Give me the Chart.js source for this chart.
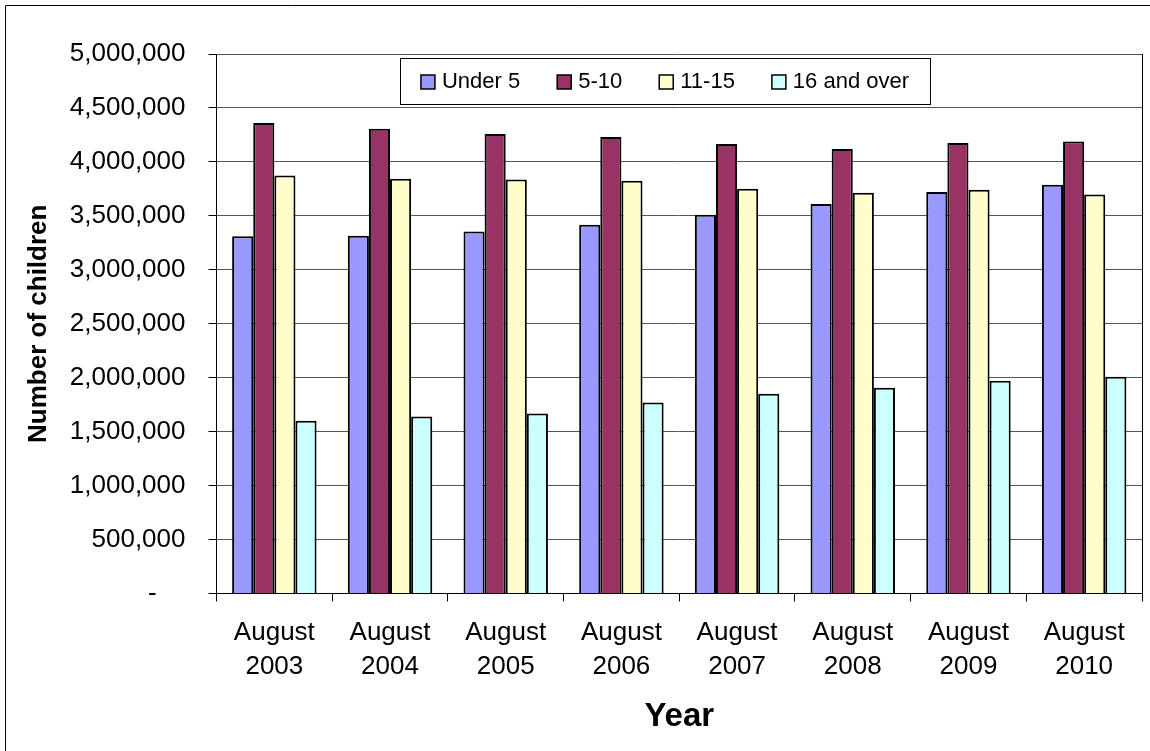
<!DOCTYPE html>
<html>
<head>
<meta charset="utf-8">
<script src="https://cdn.jsdelivr.net/npm/chart.js@4/dist/chart.umd.min.js"></script>
<style>
  html, body { margin: 0; padding: 0; background: #ffffff; }
  #wrap { width: 1150px; height: 751px; }
</style>
</head>
<body>
<div id="wrap"><canvas id="chart" width="1150" height="751"></canvas></div>
<script>
// Children counted each August, by age band
const years = ['2003', '2004', '2005', '2006', '2007', '2008', '2009', '2010'];
const seriesNames = ['Under 5', '5-10', '11-15', '16 and over'];
const under5    = [3310000, 3316000, 3356000, 3418000, 3511000, 3610000, 3721000, 3789000];
const age5to10  = [4361000, 4308000, 4259000, 4231000, 4166000, 4120000, 4175000, 4190000];
const age11to15 = [3875000, 3844000, 3838000, 3826000, 3752000, 3715000, 3742000, 3699000];
const age16plus = [1601000, 1641000, 1669000, 1771000, 1852000, 1907000, 1972000, 2009000];
const yTicks = [0, 500000, 1000000, 1500000, 2000000, 2500000, 3000000, 3500000, 4000000, 4500000, 5000000];

const fillColors = ['#9999FF', '#993366', '#FFFFCC', '#CCFFFF'];
const FONT = "'Liberation Sans', Arial, sans-serif";

const categories = years.map(y => ['August', y]);
const seriesValues = [under5, age5to10, age11to15, age16plus];

// Outer frame (left and top edges) plus the right edge of the plot
const framePlugin = {
  id: 'frame',
  beforeDraw(chart) {
    const ctx = chart.ctx;
    ctx.save();
    ctx.fillStyle = '#ffffff';
    ctx.fillRect(0, 0, chart.width, chart.height);
    ctx.strokeStyle = '#000000';
    ctx.lineWidth = 1;
    ctx.beginPath();
    ctx.moveTo(5.5, chart.height);
    ctx.lineTo(5.5, 5.5);
    ctx.lineTo(chart.width, 5.5);
    ctx.stroke();
    ctx.restore();
  },
  afterDatasetsDraw(chart) {
    const a = chart.chartArea;
    const ctx = chart.ctx;
    ctx.save();
    ctx.strokeStyle = '#000000';
    ctx.lineWidth = 1;
    const x = Math.round(a.right) + 0.5;
    ctx.beginPath();
    ctx.moveTo(x, a.top);
    ctx.lineTo(x, a.bottom);
    ctx.stroke();
    ctx.restore();
  }
};

// Boxed legend sitting inside the top of the plot
const boxLegendPlugin = {
  id: 'boxLegend',
  afterDraw(chart) {
    const ctx = chart.ctx;
    const box = { left: 400, top: 58, width: 530, height: 46 };
    const marker = 14, markerGap = 7, itemGap = 37;
    ctx.save();
    ctx.font = '22px ' + FONT;
    const items = chart.data.datasets.map(ds => ({
      label: ds.label, color: ds.backgroundColor, w: ctx.measureText(ds.label).width
    }));
    const total = items.reduce((s, it) => s + marker + markerGap + it.w, 0) + itemGap * (items.length - 1);
    ctx.fillStyle = '#ffffff';
    ctx.fillRect(box.left, box.top, box.width, box.height);
    ctx.strokeStyle = '#000000';
    ctx.lineWidth = 1;
    ctx.strokeRect(box.left + 0.5, box.top + 0.5, box.width, box.height);
    let x = box.left + (box.width - total) / 2;
    const cy = box.top + box.height / 2;
    items.forEach(it => {
      ctx.fillStyle = it.color;
      ctx.fillRect(x, cy - marker / 2 + 1, marker, marker);
      ctx.lineWidth = 1.5;
      ctx.strokeStyle = '#000000';
      ctx.strokeRect(x, cy - marker / 2 + 1, marker, marker);
      ctx.fillStyle = '#000000';
      ctx.textBaseline = 'middle';
      ctx.textAlign = 'left';
      ctx.fillText(it.label, x + marker + markerGap, cy + 1);
      x += marker + markerGap + it.w + itemGap;
    });
    ctx.restore();
  }
};

new Chart(document.getElementById('chart'), {
  type: 'bar',
  data: {
    labels: categories,
    datasets: seriesNames.map((name, i) => ({
      label: name,
      data: seriesValues[i],
      backgroundColor: fillColors[i],
      borderColor: '#000000',
      borderWidth: 2,
      borderSkipped: 'bottom',
      categoryPercentage: 0.73,
      barPercentage: 1.0
    }))
  },
  options: {
    responsive: false,
    animation: false,
    devicePixelRatio: 1,
    layout: { padding: { left: 0, right: 8, top: 54, bottom: 0 } },
    plugins: {
      legend: { display: false },
      tooltip: { enabled: false }
    },
    scales: {
      x: {
        grid: {
          display: true,
          drawOnChartArea: false,
          drawTicks: true,
          tickLength: 8,
          tickColor: '#000000',
          offset: true
        },
        border: { display: true, color: '#000000', width: 1 },
        ticks: {
          color: '#000000',
          font: { family: FONT, size: 26, lineHeight: 1.31 },
          padding: 14,
          maxRotation: 0,
          autoSkip: false
        },
        title: {
          display: true,
          text: 'Year',
          color: '#000000',
          font: { family: FONT, size: 33, weight: 'bold' },
          padding: { top: 0, bottom: 14 }
        },
        afterFit(scale) { scale.height = 157.5; }
      },
      y: {
        min: 0,
        max: 5000000,
        afterBuildTicks(scale) { scale.ticks = yTicks.map(v => ({ value: v })); },
        grid: {
          color: '#555555',
          lineWidth: 1,
          drawTicks: true,
          tickLength: 8,
          tickColor: '#000000'
        },
        border: { display: true, color: '#000000', width: 1 },
        ticks: {
          color: '#000000',
          font: { family: FONT, size: 26 },
          padding: 23,
          callback: v => v === 0 ? '-    ' : Number(v).toLocaleString('en-US')
        },
        title: {
          display: true,
          text: 'Number of children',
          color: '#000000',
          font: { family: FONT, size: 26, weight: 'bold' },
          padding: { top: 23, bottom: 0 }
        },
        afterFit(scale) { scale.width = 216.5; }
      }
    }
  },
  plugins: [framePlugin, boxLegendPlugin]
});
</script>
</body>
</html>
